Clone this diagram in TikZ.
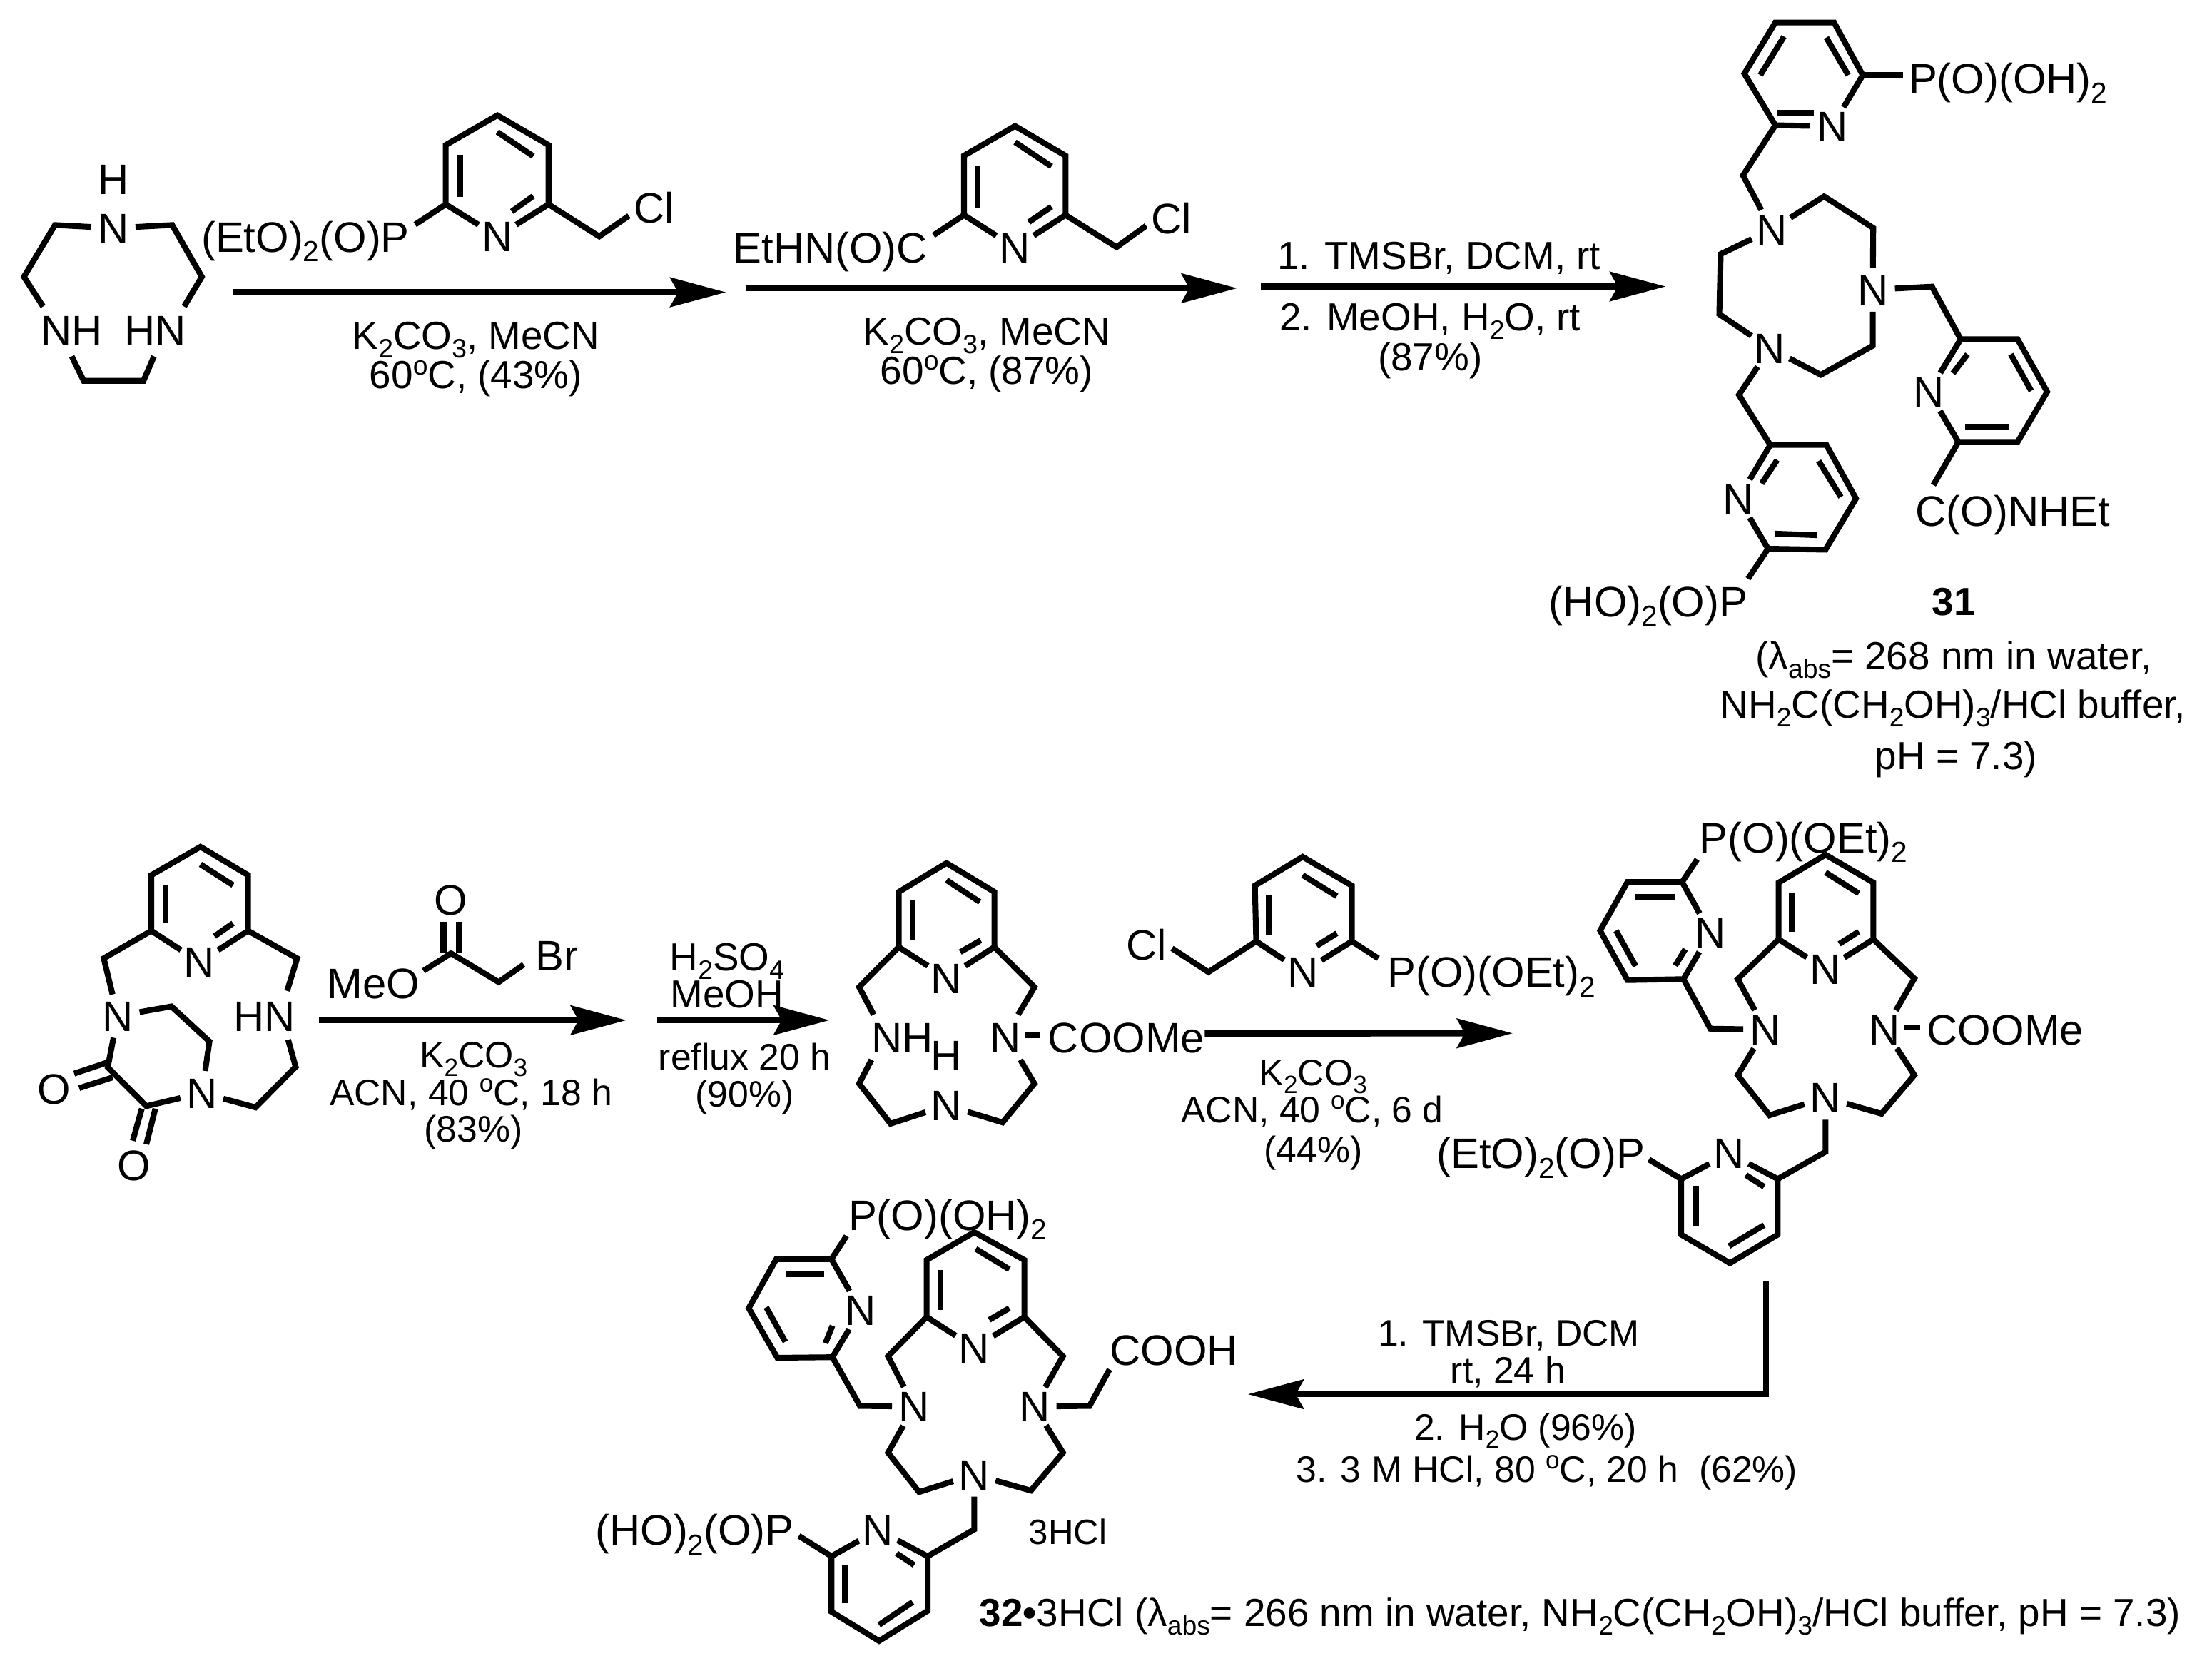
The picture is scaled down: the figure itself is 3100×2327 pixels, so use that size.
\documentclass[tikz,border=0pt]{standalone}
\usepackage{fontspec}
\setmainfont{Liberation Sans}
\usetikzlibrary{arrows.meta}
\newcommand{\low}[1]{\raisebox{-0.22em}{\scalebox{0.68}{#1}}}
\newcommand{\hig}[1]{\raisebox{0.36em}{\scalebox{0.68}{#1}}}
\newcommand{\dbl}[5]{\coordinate (#1s) at (#2,#3); \coordinate (#1e) at (#4,#5); \draw[bond] (#1s) -- (#1e);}
\tikzset{
 bond/.style={line width=2.3pt,line join=miter},
 rxn/.style={line width=2.5pt,line join=miter,-{Stealth[length=0.78cm,width=0.41cm,inset=0.11cm]}},
 lbl/.style={inner sep=0pt,text height=0.43cm,text depth=0pt,font=\fontsize{17}{17}\selectfont},
 atom/.style={lbl,circle,minimum size=0.6cm},
 rxa/.style={lbl,text height=0.39cm,font=\fontsize{15.6}{15.6}\selectfont},
 rxb/.style={lbl,text height=0.37cm,font=\fontsize{14.7}{14.7}\selectfont},
}
\begin{document}
\begin{tikzpicture}[x=0.01cm,y=-0.01cm]
\useasboundingbox (0,0) rectangle (3100,2327);

% first amine and first reagent
\begin{scope}[shift={(0,150)},x=0.006698cm,y=-0.003333cm]
 \foreach \n/\x/\y in {a1/115/497,a2/360/497,a3/422/715,a4/50/715,a5/90/840,a6/385/840,a7/150/1050,a8/175/1153,a9/300/1153,a10/322/1050,
   r1/1040/35,r2/932/160,r3/1147/160,r4/932/410,r5/1147/410,r6/868/495,r7/1253/545,r8/1315/458,as/488/780,at/1518/780}
  \coordinate (\n) at (\x,\y);
 \node[atom] (an) at (237,510) {N};
 \node[lbl] (ah) at (237,302) {H};
 \node[lbl] (anh) at (150,940) {NH};
 \node[lbl] (ahn) at (325,940) {HN};
 \draw[bond] (an) -- (a1) -- (a4) -- (a5);
 \draw[bond] (an) -- (a2) -- (a3) -- (a6);
 \draw[bond] (a7) -- (a8) -- (a9) -- (a10);
 \node[atom] (rn) at (1040,545) {N};
 \node[lbl,anchor=west] (rp) at (420,547) {(EtO)\low{2}(O)P};
 \node[lbl] (rcl) at (1368,425) {Cl};
 \draw[bond] (rn) -- (r4) -- (r2) -- (r1) -- (r3) -- (r5) -- (rn);
 \draw[bond] (r4) -- (r6);
 \draw[bond] (r5) -- (r7) -- (r8);
 \dbl{rd1}{962}{200}{962}{380}
 \dbl{rd2}{1040}{105}{1115}{207}
 \dbl{rd3}{1115}{375}{1070}{440}
 \draw[rxn] (as) -- (at);
 \node[rxa] (ka) at (995,962) {K\low{2}CO\low{3}, MeCN};
 \node[rxa] (kb) at (995,1128) {60\hig{o}C, (43\%)};
\end{scope}

% second reagent
\begin{scope}[shift={(1000,150)},x=0.006378cm,y=-0.003333cm]
 \foreach \n/\x/\y in {s1/662/80,s2/550/205,s3/773/205,s4/550/455,s5/773/455,s6/483/540,s7/885/590,s8/950/500,bs/70/763,bt/1150/763}
  \coordinate (\n) at (\x,\y);
 \node[atom] (sn) at (662,592) {N};
 \node[lbl,anchor=west] (sc) at (42,592) {EtHN(O)C};
 \node[lbl] (scl) at (1005,470) {Cl};
 \draw[bond] (sn) -- (s4) -- (s2) -- (s1) -- (s3) -- (s5) -- (sn);
 \draw[bond] (s4) -- (s6);
 \draw[bond] (s5) -- (s7) -- (s8);
 \dbl{sd1}{580}{245}{580}{425}
 \dbl{sd2}{662}{148}{742}{250}
 \dbl{sd3}{742}{420}{692}{485}
 \draw[rxn] (bs) -- (bt);
 \node[rxa] (kc) at (600,943) {K\low{2}CO\low{3}, MeCN};
 \node[rxa] (kd) at (600,1108) {60\hig{o}C, (87\%)};
\end{scope}

% third arrow
\begin{scope}[shift={(1700,300)},x=0.004464cm,y=-0.003333cm]
 \coordinate (cs) at (150,305);
 \coordinate (ct) at (1418,305);
 \draw[rxn] (cs) -- (ct);
 \node[rxa] (ke) at (708,174) {1. TMSBr, DCM, rt};
 \node[rxa] (kf) at (680,432) {2. MeOH, H\low{2}O, rt};
 \node[rxa] (kg) at (680,600) {(87\%)};
\end{scope}

% compound 31
\begin{scope}[shift={(2100,0)},x=0.006378cm,y=-0.007018cm]
 \foreach \n/\x/\y in {t1/537/350,t2/608/250,t3/540/147,t4/608/45,t5/737/45,t6/800/150,t7/888/150,
   c1/715/392,c2/823/455,c3/822/690,c4/708/748,c5/485/627,c6/488/507,
   l1/528/788,l2/597/888,l3/720/888,l4/785/995,l5/718/1097,l6/592/1095,l7/548/1155,
   e1/952/572,e2/1015/677,e3/1140/677,e4/1205/782,e5/1140/882,e6/1010/882,e7/955/968}
  \coordinate (\n) at (\x,\y);
 \node[atom] (tn) at (733,252) {N};
 \node[atom] (n1) at (600,458) {N};
 \node[atom] (n2) at (822,578) {N};
 \node[atom] (n3) at (596,695) {N};
 \node[atom] (ln) at (527,995) {N};
 \node[atom] (en) at (945,782) {N};
 \draw[bond] (tn) -- (t6) -- (t5) -- (t4) -- (t3) -- (t2) -- (tn);
 \draw[bond] (t6) -- (t7);
 \draw[bond] (t2) -- (t1) -- (n1);
 \draw[bond] (n1) -- (c1) -- (c2) -- (n2);
 \draw[bond] (n2) -- (c3) -- (c4) -- (n3);
 \draw[bond] (n3) -- (c5) -- (c6) -- (n1);
 \draw[bond] (n3) -- (l1) -- (l2);
 \draw[bond] (ln) -- (l2) -- (l3) -- (l4) -- (l5) -- (l6) -- (ln);
 \draw[bond] (l6) -- (l7);
 \draw[bond] (n2) -- (e1) -- (e2);
 \draw[bond] (en) -- (e2) -- (e3) -- (e4) -- (e5) -- (e6) -- (en);
 \draw[bond] (e6) -- (e7);
 \dbl{td1}{627}{73}{575}{150}
 \dbl{td2}{720}{75}{768}{150}
 \dbl{td3}{612}{225}{692}{225}
 \dbl{ld1}{612}{918}{578}{965}
 \dbl{ld2}{703}{920}{752}{992}
 \dbl{ld3}{608}{1065}{700}{1068}
 \dbl{ed1}{1030}{707}{998}{745}
 \dbl{ed2}{1125}{707}{1170}{780}
 \dbl{ed3}{1025}{852}{1120}{852}
 \node[lbl,anchor=west] (tp) at (900,156) {P(O)(OH)\low{2}};
 \node[lbl,anchor=west] (ep) at (915,1020) {C(O)NHEt};
 \node[lbl,anchor=west] (lp) at (110,1200) {(HO)\low{2}(O)P};
 \node[rxa] (no31) at (1000,1200) {\textbf{31}};
 \node[rxa] (kh) at (1000,1308) {(λ\low{abs}= 268 nm in water,};
 \node[rxa] (ki) at (998,1405) {NH\low{2}C(CH\low{2}OH)\low{3}/HCl buffer,};
 \node[rxa] (kj) at (1005,1508) {pH = 7.3)};
\end{scope}

% diamide macrocycle and bromoacetate
\begin{scope}[shift={(0,1150)},x=0.007018cm,y=-0.003508cm]
 \foreach \n/\x/\y in {u1/400/105,u2/302/218,u3/495/218,u4/302/440,u5/495/440,u6/207/550,u7/593/550,u8/573/680,u9/575/875,u10/590/983,u11/510/1145,
   u12/342/742,u13/418/882,u14/215/985,u15/292/1140,
   v1/900/530,v2/845/600,v3/995/645,v4/1045/575,ds/637/797,dt/1250/797,fs/1312/797}
  \coordinate (\n) at (\x,\y);
 \node[atom] (un) at (398,565) {N};
 \node[atom] (um) at (235,780) {N};
 \node[atom] (uk) at (403,1087) {N};
 \node[lbl] (uhn) at (528,780) {HN};
 \node[lbl] (uo1) at (108,1070) {O};
 \node[lbl] (uo2) at (267,1375) {O};
 \draw[bond] (un) -- (u4) -- (u2) -- (u1) -- (u3) -- (u5) -- (un);
 \draw[bond] (u4) -- (u6) -- (um);
 \draw[bond] (u5) -- (u7) -- (u8);
 \draw[bond] (um) -- (u12) -- (u13) -- (uk);
 \draw[bond] (um) -- (u14) -- (u15) -- (uk);
 \draw[bond] (uk) -- (u11) -- (u10) -- (u9);
 \dbl{ud1}{330}{255}{330}{410}
 \dbl{ud2}{400}{175}{465}{258}
 \dbl{ud3}{465}{410}{428}{462}
 \dbl{ud4}{148}{1010}{215}{965}
 \dbl{ud5}{158}{1068}{225}{1025}
 \dbl{ud6}{265}{1278}{283}{1150}
 \dbl{ud7}{292}{1292}{310}{1150}
 \node[lbl] (vo) at (900,315) {O};
 \node[lbl,anchor=west] (vm) at (652,650) {MeO};
 \node[lbl,anchor=west] (vb) at (1068,538) {Br};
 \draw[bond] (v2) -- (v1) -- (v3) -- (v4);
 \dbl{vd1}{885}{405}{885}{530}
 \dbl{vd2}{915}{405}{915}{530}
 \draw[rxn] (ds) -- (dt);
 \node[rxb] (kk) at (945,935) {K\low{2}CO\low{3}};
 \node[rxb] (kl) at (940,1085) {ACN, 40 \hig{o}C, 18 h};
 \node[rxb] (km) at (945,1230) {(83\%)};
 \node[rxa] (kn) at (1451,545) {H\low{2}SO\low{4}};
 \node[rxa] (ko) at (1451,692) {MeOH};
 \node[rxb] (kp) at (1486,943) {reflux 20 h};
 \node[rxb] (kq) at (1486,1090) {(90\%)};
\end{scope}

% methyl carbamate and second phosphonate reagent
\begin{scope}[shift={(1100,1150)},x=0.006378cm,y=-0.003508cm]
 \foreach \n/\x/\y in {w1/355/170,w2/250/285,w3/460/285,w4/250/505,w5/460/505,w6/163/665,w7/548/665,w8/195/775,w9/512/775,
   w10/190/955,w11/163/1050,w12/232/1210,w13/478/1205,w14/548/1050,w15/517/955,w16/528/857,w17/560/857,
   x1/1137/145,x2/1032/260,x3/1245/260,x4/1035/482,x5/1245/482,x6/1303/550,x7/930/605,x8/850/510,ft/98/797,gs/922/850}
  \coordinate (\n) at (\x,\y);
 \node[atom] (wn) at (355,628) {N};
 \node[atom] (wb) at (355,1137) {N};
 \node[atom] (wr) at (485,865) {N};
 \node[lbl] (wnh) at (258,865) {NH};
 \node[lbl] (wh) at (355,938) {H};
 \node[lbl,anchor=west] (wc) at (577,865) {COOMe};
 \draw[bond] (wn) -- (w4) -- (w2) -- (w1) -- (w3) -- (w5) -- (wn);
 \draw[bond] (w4) -- (w6) -- (w8);
 \draw[bond] (w5) -- (w7) -- (w9);
 \draw[bond] (w10) -- (w11) -- (w12) -- (wb);
 \draw[bond] (wb) -- (w13) -- (w14) -- (w15);
 \draw[bond] (w16) -- (w17);
 \dbl{wd1}{280}{320}{280}{478}
 \dbl{wd2}{355}{238}{428}{325}
 \dbl{wd3}{430}{478}{385}{525}
 \node[atom] (xn) at (1137,605) {N};
 \node[lbl,anchor=west] (xcl) at (748,495) {Cl};
 \node[lbl,anchor=west] (xp) at (1322,605) {P(O)(OEt)\low{2}};
 \draw[bond] (xn) -- (x4) -- (x2) -- (x1) -- (x3) -- (x5) -- (xn);
 \draw[bond] (x5) -- (x6);
 \draw[bond] (x4) -- (x7) -- (x8);
 \dbl{xd1}{1062}{295}{1062}{455}
 \dbl{xd2}{1137}{218}{1212}{302}
 \dbl{xd3}{1212}{450}{1168}{500}
 \node[rxb] (kr) at (1160,1005) {K\low{2}CO\low{3}};
 \node[rxb] (ks) at (1158,1152) {ACN, 40 \hig{o}C, 6 d};
 \node[rxb] (kt) at (1160,1312) {(44\%)};
\end{scope}
\draw[rxn] (fs) -- (ft);

% bis phosphonate ester
\begin{scope}[shift={(2000,1120)},x=0.006378cm,y=-0.004337cm]
 \foreach \n/\x/\y in {y1/875/180,y2/772/270,y3/980/270,y4/772/453,y5/980/453,y6/682/582,y7/1070/580,y8/718/668,y9/1032/668,
   y10/1048/737,y11/1082/737,y12/712/818,y13/682/892,y14/752/1022,y15/998/1017,y16/1070/892,y17/1037/815,
   o1/440/268,o2/560/268,o3/563/582,o4/440/585,o5/380/425,o6/593/195,o7/622/742,
   q1/875/1140,q2/770/1228,q3/558/1228,q4/558/1408,q5/665/1500,q6/770/1408,q7/487/1165,gt/188/757}
  \coordinate (\n) at (\x,\y);
 \node[atom] (yn) at (875,550) {N};
 \node[atom] (yl) at (743,745) {N};
 \node[atom] (yr) at (1005,745) {N};
 \node[atom] (yb) at (875,965) {N};
 \node[atom] (on) at (622,432) {N};
 \node[atom] (qn) at (663,1145) {N};
 \draw[bond] (yn) -- (y4) -- (y2) -- (y1) -- (y3) -- (y5) -- (yn);
 \draw[bond] (y4) -- (y6) -- (yl);
 \draw[bond] (y5) -- (y7) -- (yr);
 \draw[bond] (y10) -- (y11);
 \draw[bond] (yl) -- (y13) -- (y14) -- (yb);
 \draw[bond] (yb) -- (y15) -- (y16) -- (yr);
 \draw[bond] (on) -- (o2) -- (o1) -- (o5) -- (o4) -- (o3) -- (on);
 \draw[bond] (o2) -- (o6);
 \draw[bond] (o3) -- (o7) -- (yl);
 \draw[bond] (yb) -- (q1) -- (q2);
 \draw[bond] (qn) -- (q2) -- (q6) -- (q5) -- (q4) -- (q3) -- (qn);
 \draw[bond] (q3) -- (q7);
 \dbl{yd1}{800}{305}{800}{430}
 \dbl{yd2}{875}{237}{948}{305}
 \dbl{yd3}{948}{428}{905}{468}
 \dbl{od1}{458}{317}{545}{317}
 \dbl{od2}{415}{425}{458}{540}
 \dbl{od3}{567}{485}{545}{538}
 \dbl{qd1}{700}{1215}{740}{1253}
 \dbl{qd2}{590}{1250}{590}{1380}
 \dbl{qd3}{663}{1445}{740}{1377}
 \node[lbl,anchor=west] (yc) at (1097,745) {COOMe};
 \node[lbl,anchor=west] (op) at (597,125) {P(O)(OEt)\low{2}};
 \node[lbl,anchor=west] (qp) at (20,1145) {(EtO)\low{2}(O)P};
\end{scope}
\draw[rxn] (gs) -- (gt);

% last arrow
\begin{scope}[shift={(1700,1780)},x=0.00574cm,y=-0.003333cm]
 \coordinate (hs) at (1350,48);
 \coordinate (hc) at (1350,523);
 \coordinate (ht) at (85,523);
 \draw[rxn] (hs) -- (hc) -- (ht);
 \node[rxb] (ku) at (722,265) {1. TMSBr, DCM};
 \node[rxb] (kv) at (720,420) {rt, 24 h};
 \node[rxb] (kw) at (763,660) {2. H\low{2}O (96\%)};
 \node[rxb] (kx) at (815,838) {3. 3 M HCl, 80 \hig{o}C, 20 h\ \ (62\%)};
\end{scope}

% compound 32
\begin{scope}[shift={(800,1680)},x=0.007018cm,y=-0.004082cm]
 \foreach \n/\x/\y in {z1/805/115,z2/710/210,z3/905/210,z4/710/405,z5/905/405,z6/633/540,z7/982/540,
   z8/1035/710,z9/1075/585,z10/633/870,z11/695/1005,z12/918/1000,z13/982/870,
   p1/410/207,p2/520/207,p3/522/543,p4/412/545,p5/355/375,p6/550/128,p7/577/710,
   g1/805/1133,g2/712/1225,g3/520/1225,g4/520/1415,g5/615/1515,g6/712/1412,g7/455/1155}
  \coordinate (\n) at (\x,\y);
 \node[atom] (zn) at (805,510) {N};
 \node[atom] (zl) at (685,712) {N};
 \node[atom] (zr) at (925,712) {N};
 \node[atom] (zb) at (805,945) {N};
 \node[atom] (pn) at (578,382) {N};
 \node[atom] (gn) at (613,1135) {N};
 \draw[bond] (zn) -- (z4) -- (z2) -- (z1) -- (z3) -- (z5) -- (zn);
 \draw[bond] (z4) -- (z6) -- (zl);
 \draw[bond] (z5) -- (z7) -- (zr);
 \draw[bond] (zr) -- (z8) -- (z9);
 \draw[bond] (zl) -- (z10) -- (z11) -- (zb);
 \draw[bond] (zb) -- (z12) -- (z13) -- (zr);
 \draw[bond] (pn) -- (p2) -- (p1) -- (p5) -- (p4) -- (p3) -- (pn);
 \draw[bond] (p2) -- (p6);
 \draw[bond] (p3) -- (p7) -- (zl);
 \draw[bond] (zb) -- (g1) -- (g2);
 \draw[bond] (gn) -- (g2) -- (g6) -- (g5) -- (g4) -- (g3) -- (gn);
 \draw[bond] (g3) -- (g7);
 \dbl{zd1}{738}{245}{738}{380}
 \dbl{zd2}{808}{172}{875}{242}
 \dbl{zd3}{875}{375}{835}{415}
 \dbl{pd1}{430}{258}{505}{258}
 \dbl{pd2}{390}{372}{428}{490}
 \dbl{pd3}{522}{435}{508}{495}
 \dbl{gd1}{650}{1215}{685}{1255}
 \dbl{gd2}{547}{1255}{547}{1385}
 \dbl{gd3}{615}{1460}{682}{1382}
 \node[lbl,anchor=west] (zc) at (1075,518) {COOH};
 \node[lbl,anchor=west] (pp) at (553,55) {P(O)(OH)\low{2}};
 \node[lbl,anchor=west] (gp) at (48,1135) {(HO)\low{2}(O)P};
 \node[rxb,font=\fontsize{14}{14}\selectfont] (zh) at (992,1140) {3HCl};
\end{scope}

\node[rxa,anchor=west] (no32) at (1372,2260) {\textbf{32•}3HCl (λ\low{abs}= 266 nm in water, NH\low{2}C(CH\low{2}OH)\low{3}/HCl buffer, pH = 7.3)};
\end{tikzpicture}
\end{document}
